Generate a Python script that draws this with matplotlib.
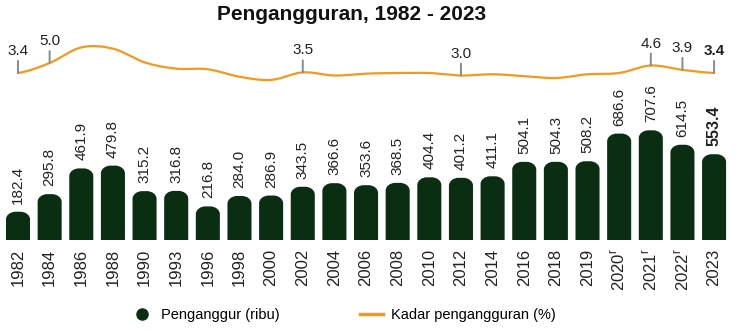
import numpy as np
import matplotlib.pyplot as plt
from matplotlib.path import Path
from matplotlib.patches import PathPatch
from matplotlib.lines import Line2D

plt.rcParams['font.family'] = ['Liberation Sans', 'DejaVu Sans']

years = ['1982', '1984', '1986', '1988', '1990', '1993', '1996', '1998',
         '2000', '2002', '2004', '2006', '2008', '2010', '2012', '2014',
         '2016', '2018', '2019', '2020', '2021', '2022', '2023']
revised = ['2020', '2021', '2022']

# penganggur (ribu)
unemployed = [182.4, 295.8, 461.9, 479.8, 315.2, 316.8, 216.8, 284.0,
              286.9, 343.5, 366.6, 353.6, 368.5, 404.4, 401.2, 411.1,
              504.1, 504.3, 508.2, 686.6, 707.6, 614.5, 553.4]

# kadar pengangguran (%)
rate = [3.4, 5.0, 7.5, 7.3, 5.1, 4.1, 4.0, 2.8,
        2.3, 3.5, 3.0, 3.3, 3.4, 3.4, 3.0, 3.2,
        2.9, 2.6, 3.2, 3.4, 4.6, 3.9, 3.4]
rate_shown = ['1982', '1984', '2002', '2012', '2021', '2022', '2023']

bar_color = '#0a2e12'
line_color = '#f39a1d'

W, H = 736, 330
fig = plt.figure(figsize=(W / 100, H / 100), dpi=100)

x = np.arange(len(years))
step = 31.64
xlim = (-18 / step, (W - 18) / step)

# --- bars ---
ax = fig.add_axes([0, (H - 240) / H, 1, 155 / H])
ax.set_xlim(*xlim)
ax.set_ylim(0, 1000)
ax.axis('off')

bw = 0.76
rx = bw * 0.4
ry = 50
k = 0.5523
for xi, v in zip(x, unemployed):
    x0, x1 = xi - bw / 2, xi + bw / 2
    verts = [(x0, 0), (x0, v - ry),
             (x0, v - ry + ry * k), (x0 + rx - rx * k, v), (x0 + rx, v),
             (x1 - rx, v),
             (x1 - rx + rx * k, v), (x1, v - ry + ry * k), (x1, v - ry),
             (x1, 0), (x0, 0)]
    codes = [Path.MOVETO, Path.LINETO,
             Path.CURVE4, Path.CURVE4, Path.CURVE4,
             Path.LINETO,
             Path.CURVE4, Path.CURVE4, Path.CURVE4,
             Path.LINETO, Path.CLOSEPOLY]
    ax.add_patch(PathPatch(Path(verts, codes), facecolor=bar_color,
                           edgecolor='none'))

for i, (xi, v) in enumerate(zip(x, unemployed)):
    last = i == len(x) - 1
    ax.annotate(f'{v:.1f}', xy=(xi, v), xytext=(0, 8),
                textcoords='offset pixels', rotation=90, ha='center',
                va='bottom', fontsize=11.5 if last else 11, color='#222222',
                fontweight='bold' if last else 'normal')

# year labels under the bars
for xi, y in zip(x, years):
    txt = y + r'$^{\mathregular{r}}$' if y in revised else y
    ax.text(xi, -55, txt, rotation=90, ha='center', va='top',
            fontsize=12, color='#222222')

# --- rate line ---
lx = fig.add_axes([0, (H - 90) / H, 1, 60 / H])
lx.set_xlim(*xlim)
lx.set_ylim(3.4 - 17 / 6.25, 3.4 + 43 / 6.25)
lx.axis('off')

# Catmull-Rom curve through the yearly rates
r = np.array(rate)
pts = np.concatenate([[r[0]], r, [r[-1]]])
xs, ys = [], []
t = np.linspace(0, 1, 25)
for i in range(len(r) - 1):
    p0, p1, p2, p3 = pts[i], pts[i + 1], pts[i + 2], pts[i + 3]
    yy = 0.5 * (2 * p1 + (-p0 + p2) * t + (2 * p0 - 5 * p1 + 4 * p2 - p3) * t ** 2
                + (-p0 + 3 * p1 - 3 * p2 + p3) * t ** 3)
    xs.extend(i + t)
    ys.extend(yy)
lx.plot(xs, ys, color=line_color, lw=1.6, solid_capstyle='round')

for xi, y, v in zip(x, years, rate):
    if y not in rate_shown:
        continue
    lx.annotate('', xy=(xi, v), xytext=(0, 12), textcoords='offset pixels',
                arrowprops=dict(arrowstyle='-', color='#8a8a8a', lw=1.4,
                                shrinkA=0, shrinkB=0))
    lx.annotate(f'{v:.1f}', xy=(xi, v), xytext=(0, 15),
                textcoords='offset pixels', ha='center', va='bottom',
                fontsize=11, color='#222222',
                fontweight='bold' if y == '2023' else 'normal')

fig.text(352 / W, 1 - 15 / H, 'Pengangguran, 1982 - 2023', ha='center',
         va='center', fontsize=15, fontweight='bold', color='#111111')

handles = [Line2D([], [], marker='o', ls='none', color=bar_color,
                  markersize=8),
           Line2D([], [], color=line_color, lw=2.5)]
fig.legend(handles, ['Penganggur (ribu)', 'Kadar pengangguran (%)'],
           loc='center', bbox_to_anchor=(343 / W, 15 / H), ncol=2,
           frameon=False, fontsize=10.5, handlelength=1.6,
           columnspacing=5.5, handletextpad=0.5)

fig.savefig('out.png', dpi=100)
